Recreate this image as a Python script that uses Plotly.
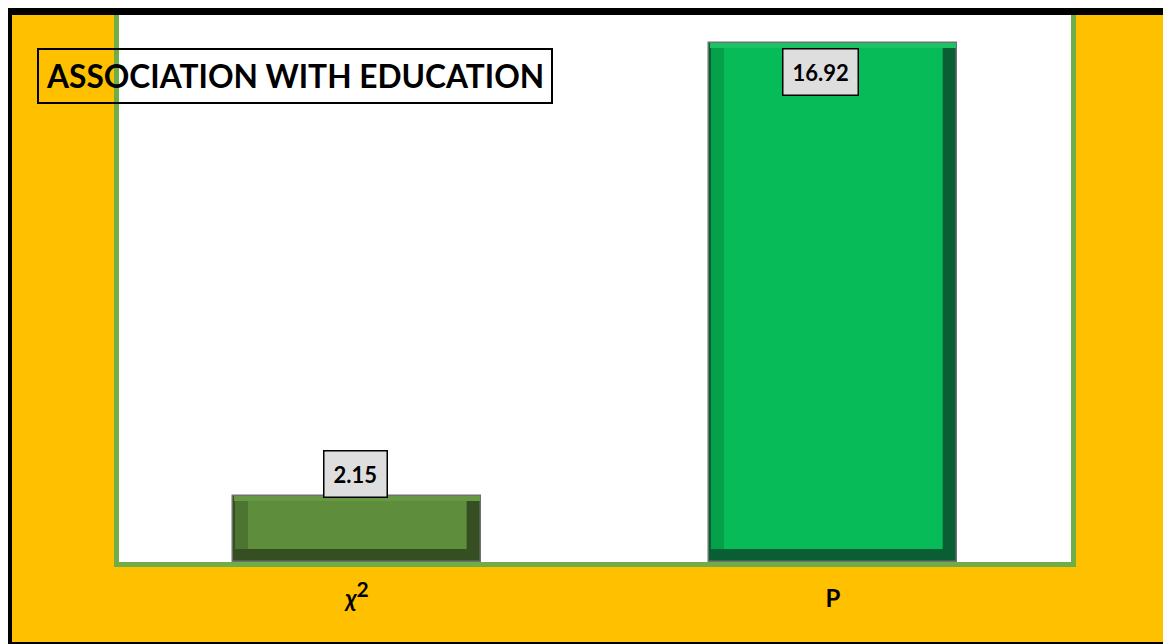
import plotly.graph_objects as go

categories = ["<b><i>χ</i><sup><span style='font-size:21px'>2</span></sup></b>", "<b>P</b>"]
values = [2.15, 16.92]
value_labels = ["2.15", "16.92"]
title_text = "ASSOCIATION WITH EDUCATION"

main_colors = ["#5E8D3C", "#07BC58"]
dark_colors = ["#354F22", "#0A5E33"]
side_colors = ["#4B7530", "#05A04A"]
top_colors = ["#679843", "#1AC464"]

# page is drawn with an 8px body margin; coordinates below are in figure pixels
W, H = 1171, 644
ML, MR, MT, MB = 111, 108, 2, 90
PW = W - ML - MR
PH = H - MT - MB
YMAX = 18.0
unit_px = PH / YMAX
FONT = "Lato, Open Sans, sans-serif"
GREEN = "#70AD47"

def px_x(px):
    return (px - ML) / PW

def px_y(py):
    return (H - MB - py) / PH

bar_w = 0.52
bevel_side = 15 / PW * 2      # in category units
bevel_bottom = 13 / unit_px   # in data units
bevel_top = 5 / unit_px

n = len(values)
fig = go.Figure()
# dark shade (right + bottom bevel), with grey outline
fig.add_trace(go.Bar(x=categories, y=values, width=bar_w,
                     marker=dict(color=dark_colors, line=dict(color="#707070", width=1.5)),
                     hoverinfo="skip", showlegend=False))
# light top bevel
fig.add_trace(go.Bar(x=categories, y=[bevel_top] * n,
                     base=[v - bevel_top for v in values], width=bar_w - 0.004,
                     marker=dict(color=top_colors, line=dict(width=0)),
                     hoverinfo="skip", showlegend=False))
# left bevel
fig.add_trace(go.Bar(x=categories, y=[v - bevel_top - bevel_bottom for v in values],
                     base=[bevel_bottom] * n, width=bar_w - bevel_side,
                     offset=-bar_w / 2 + 0.003,
                     marker=dict(color=side_colors, line=dict(width=0)),
                     hoverinfo="skip", showlegend=False))
# face
fig.add_trace(go.Bar(x=categories, y=[v - bevel_bottom - bevel_top for v in values],
                     base=[bevel_bottom] * n, width=bar_w - 2 * bevel_side,
                     marker=dict(color=main_colors, line=dict(width=0)),
                     hoverinfo="skip", showlegend=False))

shapes = [
    dict(type="rect", xref="paper", yref="paper", layer="below",
         x0=px_x(0), x1=px_x(1168), y0=px_y(3), y1=px_y(640),
         fillcolor="#FFC000", line=dict(width=0)),
    dict(type="rect", xref="paper", yref="paper", layer="below",
         x0=0, x1=1, y0=0, y1=1, fillcolor="white", line=dict(width=0)),
    dict(type="rect", xref="paper", yref="paper", layer="above",
         x0=px_x(0.5), x1=px_x(1167.5), y0=px_y(3.5), y1=px_y(637.5),
         fillcolor="rgba(0,0,0,0)", line=dict(color="black", width=7)),
]

annotations = [
    dict(xref="paper", yref="paper", x=px_x(29), y=px_y(40), xanchor="left", yanchor="top",
         text="<b>" + title_text + "</b>", showarrow=False,
         font=dict(family=FONT, size=31.7, color="black"),
         bordercolor="black", borderwidth=2, borderpad=7, bgcolor="rgba(0,0,0,0)"),
    dict(x=categories[0], y=values[0], xref="x", yref="y", yanchor="bottom",
         text="<b>" + value_labels[0] + "</b>", showarrow=False, yshift=-2, xshift=-2,
         font=dict(family=FONT, size=22, color="black"),
         bgcolor="#DEDEDE", bordercolor="black", borderwidth=1.5, borderpad=9),
    dict(x=categories[1], y=values[1], xref="x", yref="y", yanchor="top",
         text="<b>" + value_labels[1] + "</b>", showarrow=False, yshift=-5, xshift=-13,
         font=dict(family=FONT, size=22, color="black"),
         bgcolor="#DEDEDE", bordercolor="black", borderwidth=1.5, borderpad=9),
]

fig.update_layout(
    width=W, height=H,
    margin=dict(l=ML, r=MR, t=MT, b=MB),
    paper_bgcolor="white", plot_bgcolor="rgba(0,0,0,0)",
    barmode="overlay", bargap=0,
    shapes=shapes, annotations=annotations,
    showlegend=False,
    font=dict(family=FONT),
)
fig.update_xaxes(showgrid=False, zeroline=False, showline=True, linecolor=GREEN,
                 linewidth=5, mirror=False, ticks="", ticklabelstandoff=11,
                 automargin=False,
                 tickfont=dict(size=24, color="black", family=FONT))
fig.update_yaxes(range=[0, YMAX], showgrid=False, zeroline=False, showticklabels=False,
                 automargin=False,
                 showline=True, linecolor=GREEN, linewidth=5, mirror=True, ticks="")

fig.write_html("out.html")
